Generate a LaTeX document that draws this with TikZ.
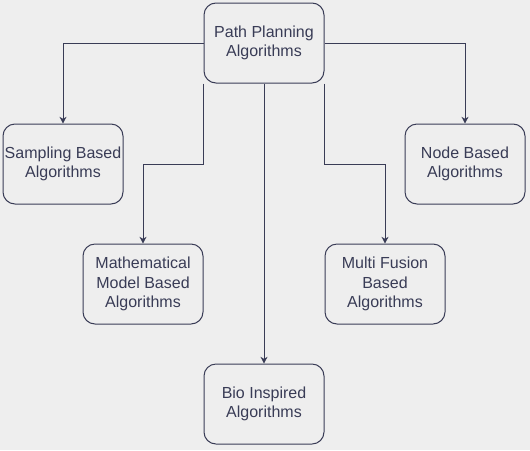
\documentclass[tikz,border=0pt]{standalone}
\usepackage{fontspec}
\setmainfont{Liberation Sans}
\usepackage{xcolor}
\usetikzlibrary{positioning,arrows.meta,backgrounds}
\definecolor{inkline}{HTML}{393C56}
\definecolor{paper}{HTML}{EEEEEE}
\tikzset{
>={Stealth[length=5pt,width=5.2pt,inset=1.5pt]},
  line/.style={draw=inkline, line width=0.75pt, ->},
}
\begin{document}
\begin{tikzpicture}[node distance=1cm, auto]
  \tikzset{
      algo/.style={rectangle, rounded corners=9pt, draw=inkline, line width=0.75pt, text=inkline,
        minimum width=90pt, minimum height=60pt, inner sep=1pt, align=center,
        font=\fontsize{12}{14.4}\selectfont},
  }
  \fill[paper] (0pt,0pt) rectangle (397.5pt,-337.5pt);
  \node[algo] at (198pt,-32.25pt) (root) {Path Planning\\Algorithms};
  \node[algo, below left=30pt and 60pt of root]  (sampling) {Sampling Based\\Algorithms};
  \node[algo, below right=30pt and 60pt of root] (nodebased) {Node Based\\Algorithms};
  \node[algo, below left=120pt and 0pt of root]  (mathmodel) {Mathematical\\Model Based\\Algorithms};
  \node[algo, below right=120pt and 0pt of root] (multifusion) {Multi Fusion\\Based\\Algorithms};
  \node[algo, below=210pt of root]               (bio) {Bio Inspired\\Algorithms};
  % bends of the inner connectors
  \coordinate (bendl) at (root.south west |- sampling.east);
  \coordinate (bendr) at (root.south east |- nodebased.west);
  \path[line] (root.west) -| (sampling.north);
  \path[line] (root.east) -| (nodebased.north);
  \path[line] (root.south west) -- (bendl) -| (mathmodel.north);
  \path[line] (root.south east) -- (bendr) -| (multifusion.north);
  \path[line] (root.south) -- (bio.north);

\end{tikzpicture}
\end{document}
